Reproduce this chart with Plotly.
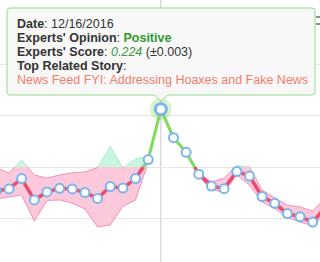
import numpy as np
import pandas as pd
import plotly.graph_objects as go

# ---------------- data ----------------
dates = pd.date_range("2016-12-03", periods=27, freq="D")
score = [-0.093, -0.085, -0.045, -0.128, -0.097, -0.083, -0.085, -0.099, -0.122,
         -0.076, -0.082, -0.045, 0.029, 0.224, 0.114, 0.057, -0.028, -0.074,
         -0.084, -0.017, -0.035, -0.115, -0.141, -0.181, -0.193, -0.214, -0.157]
upper = [-0.004, -0.023, 0.027, -0.031, -0.043, -0.031, -0.023, -0.019, -0.002,
         0.079, -0.005, 0.031, 0.041, 0.227, 0.118, 0.061, -0.024, -0.058,
         -0.043, 0.005, 0.000, -0.089, -0.120, -0.148, -0.155, -0.171, -0.120]
lower = [-0.124, -0.116, -0.109, -0.210, -0.130, -0.128, -0.140, -0.163, -0.233,
         -0.225, -0.153, -0.128, 0.019, 0.221, 0.110, 0.053, -0.035, -0.089,
         -0.097, -0.031, -0.070, -0.136, -0.161, -0.194, -0.214, -0.227, -0.183]
gridvals = [-0.2, 0.0, 0.2, 0.4]

hover_idx = 13
tip_lines = [
    "<b>Date</b>: 12/16/2016",
    "<b>Experts' Opinion</b>: <b><span style='color:#2f9a2f'>Positive</span></b>",
    "<b>Experts' Score</b>: <i><span style='color:#3a9a3a'>0.224</span></i> (±0.003)",
    "<b>Top Related Story</b>:",
    "<span style='color:#f47d6c'>News Feed FYI: Addressing Hoaxes and Fake News</span>",
]

# ---------------- colours ----------------
NEG_LINE = "#ee4a6d"
POS_LINE = "#7fdc5a"
NEG_FILL = "#fcc8dc"
POS_FILL = "#c8f6df"
NEG_EDGE = "#f590b8"
POS_EDGE = "#a6eccb"
MARKER_EDGE = "#7cb5ec"

W, H = 320, 262


def refine(series_list):
    """Insert the zero-crossing positions of each piecewise-linear series."""
    t = np.arange(len(series_list[0]), dtype=float)
    ts = set(t.tolist())
    for s in series_list:
        s = np.asarray(s, float)
        for i in range(len(s) - 1):
            a, b = s[i], s[i + 1]
            if a * b < 0:
                ts.add(i + a / (a - b))
    ts = np.array(sorted(ts))
    return ts, [np.interp(ts, t, np.asarray(s, float)) for s in series_list]


ts, (sc_r, up_r, lo_r) = refine([score, upper, lower])
xr = [(dates[0] + pd.Timedelta(days=float(v))).isoformat() for v in ts]


def part(y, positive):
    if positive:
        return [float(v) if v >= -1e-12 else None for v in y]
    return [float(v) if v <= 1e-12 else None for v in y]


fig = go.Figure()

# band fills (negative zone pink, positive zone green)
fig.add_trace(go.Scatter(x=xr, y=np.minimum(lo_r, 0), mode="lines",
                         line=dict(width=0), hoverinfo="skip"))
fig.add_trace(go.Scatter(x=xr, y=np.minimum(up_r, 0), mode="lines",
                         line=dict(width=0), fill="tonexty", fillcolor=NEG_FILL,
                         hoverinfo="skip"))
fig.add_trace(go.Scatter(x=xr, y=np.maximum(lo_r, 0), mode="lines",
                         line=dict(width=0), hoverinfo="skip"))
fig.add_trace(go.Scatter(x=xr, y=np.maximum(up_r, 0), mode="lines",
                         line=dict(width=0), fill="tonexty", fillcolor=POS_FILL,
                         hoverinfo="skip"))

# band edges
for arr in (up_r, lo_r):
    fig.add_trace(go.Scatter(x=xr, y=part(arr, False), mode="lines",
                             line=dict(color=NEG_EDGE, width=1)))
    fig.add_trace(go.Scatter(x=xr, y=part(arr, True), mode="lines",
                             line=dict(color=POS_EDGE, width=1)))

# main line
fig.add_trace(go.Scatter(x=xr, y=part(sc_r, False), mode="lines",
                         line=dict(color=NEG_LINE, width=3.5)))
fig.add_trace(go.Scatter(x=xr, y=part(sc_r, True), mode="lines",
                         line=dict(color=POS_LINE, width=3)))

# markers
fig.add_trace(go.Scatter(x=dates, y=score, mode="markers",
                         marker=dict(size=9, color="white",
                                     line=dict(color=MARKER_EDGE, width=2))))

# hovered point: halo + enlarged marker
fig.add_trace(go.Scatter(x=[dates[hover_idx]], y=[score[hover_idx]], mode="markers",
                         marker=dict(size=22, color="rgba(127,220,90,0.3)",
                                     line=dict(width=0))))
fig.add_trace(go.Scatter(x=[dates[hover_idx]], y=[score[hover_idx]], mode="markers",
                         marker=dict(size=11, color="white",
                                     line=dict(color=MARKER_EDGE, width=3))))

# crosshair
fig.add_shape(type="line", xref="x", yref="paper",
              x0=dates[hover_idx], x1=dates[hover_idx], y0=0, y1=1,
              line=dict(color="#c8c8c8", width=1), layer="below")


def P(px, py):
    return f"{px / W:.5f},{1 - py / H:.5f}"


# tooltip callout box
l, r, t, b, rr = 7, 315, 8, 95, 3
nx, nw, ny = 161, 7, 101
path = (f"M{P(l + rr, t)} L{P(r - rr, t)} Q{P(r, t)} {P(r, t + rr)} "
        f"L{P(r, b - rr)} Q{P(r, b)} {P(r - rr, b)} "
        f"L{P(nx + nw, b)} L{P(nx, ny)} L{P(nx - nw, b)} "
        f"L{P(l + rr, b)} Q{P(l, b)} {P(l, b - rr)} "
        f"L{P(l, t + rr)} Q{P(l, t)} {P(l + rr, t)} Z")
fig.add_shape(type="path", xref="paper", yref="paper", path=path,
              fillcolor="#f8f8f8", line=dict(color="#95dd8c", width=1), layer="above")

# export-menu icon fragments at top right
for py in (17, 24):
    fig.add_shape(type="line", xref="paper", yref="paper",
                  x0=316 / W, x1=1, y0=1 - py / H, y1=1 - py / H,
                  line=dict(color="#666666", width=1.5))

baselines = [28.0, 42.0, 56.2, 70.3, 84.3]
for txt, bl in zip(tip_lines, baselines):
    fig.add_annotation(x=15 / W, y=1 - (bl - 4.3) / H, xref="paper", yref="paper",
                       xanchor="left", yanchor="middle", showarrow=False,
                       text=txt, align="left",
                       font=dict(family="Liberation Sans, Arial, sans-serif",
                                 size=12.5, color="#333333"))

# axes
px_per_day = 12.654
x_start = dates[0] + pd.Timedelta(days=3.65 / px_per_day)
x_end = dates[0] + pd.Timedelta(days=(W + 3.65) / px_per_day)
zero_px, px_per_unit = 167.0, 257.5

fig.update_xaxes(range=[x_start, x_end], showgrid=False, zeroline=False,
                 showticklabels=False, showline=False, ticks="")
fig.update_yaxes(range=[-(H - zero_px) / px_per_unit, zero_px / px_per_unit],
                 tickvals=gridvals, showgrid=True, gridcolor="#e6e6e6", gridwidth=1,
                 zeroline=False, showticklabels=False, showline=False, ticks="")
fig.update_layout(width=W, height=H, margin=dict(l=0, r=0, t=0, b=0),
                  paper_bgcolor="white", plot_bgcolor="white",
                  showlegend=False, hovermode=False)

fig.write_html("out.html")
